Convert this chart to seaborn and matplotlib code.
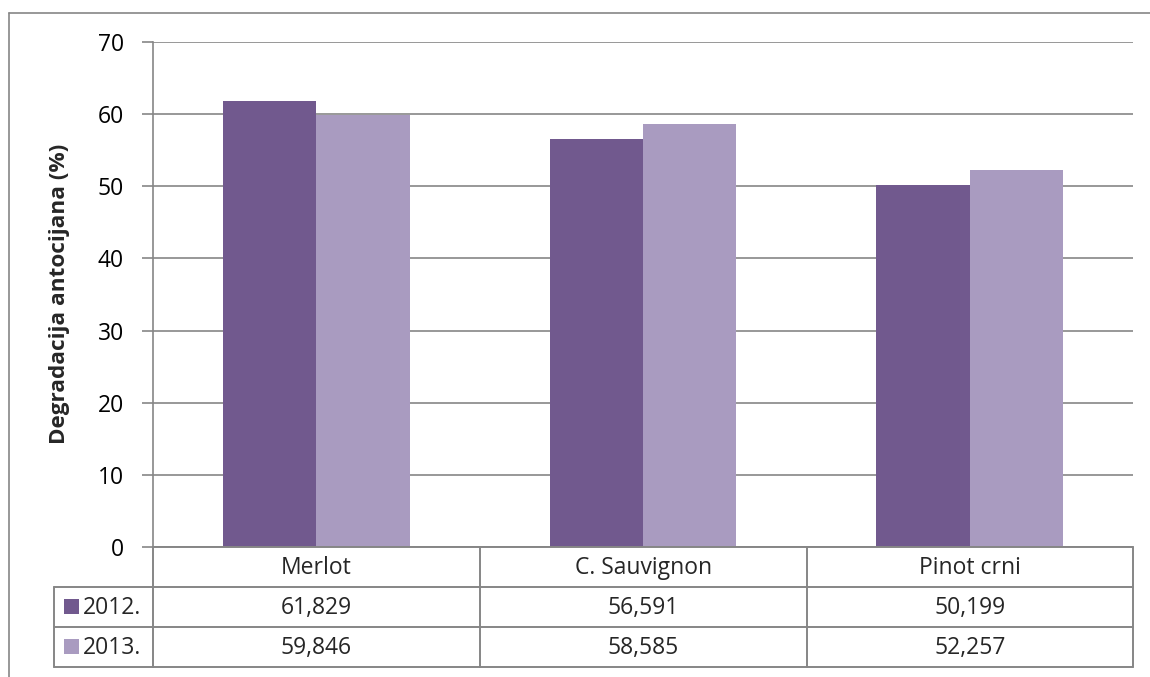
import matplotlib
matplotlib.use("Agg")
import matplotlib.pyplot as plt
import seaborn as sns
import pandas as pd
from matplotlib.lines import Line2D
from matplotlib.patches import Rectangle

categories = ["Merlot", "C. Sauvignon", "Pinot crni"]
series_names = ["2012.", "2013."]
values_2012 = [61.829, 56.591, 50.199]
values_2013 = [59.846, 58.585, 52.257]
y_ticks = [0, 10, 20, 30, 40, 50, 60, 70]
y_label = "Degradacija antocijana (%)"
colors = ["#71598E", "#A99BC0"]

sns.set_theme(style="white")
plt.rcParams["font.family"] = ["Open Sans", "DejaVu Sans"]

W, H = 1150, 677
fig = plt.figure(figsize=(W / 100, H / 100), dpi=100)

def fx(px):
    return px / W

def fy(py):
    return 1 - py / H

L, R, T, B = 153, 1133, 42, 547
ax = fig.add_axes([fx(L), fy(B), fx(R) - fx(L), fy(T) - fy(B)])

df = pd.DataFrame({
    "cat": categories * 2,
    "year": [series_names[0]] * 3 + [series_names[1]] * 3,
    "val": values_2012 + values_2013,
})
sns.barplot(data=df, x="cat", y="val", hue="year", palette=colors,
            width=0.572, saturation=1, ax=ax, legend=False, linewidth=0)

grid_c = "#868686"
fs = 16.5
ax.set_ylim(0, 70)
ax.set_xlim(-0.5, 2.5)
ax.set_yticks(y_ticks)
ax.set_yticklabels([str(t) for t in y_ticks], fontsize=fs, color="black")
ax.yaxis.grid(True, color=grid_c, linewidth=1.2)
ax.set_axisbelow(True)
ax.set_xticks([])
ax.set_xlabel("")
ax.set_ylabel(y_label, fontsize=16.2, fontweight="bold", va="center")
for s in ["top", "right", "bottom"]:
    ax.spines[s].set_visible(False)
ax.spines["left"].set_color(grid_c)
ax.spines["left"].set_linewidth(1.2)
ax.tick_params(axis="y", length=8, width=1.2, color=grid_c, direction="out", pad=13, left=True)
ax.yaxis.set_label_coords(-(L - 60) / (R - L), (B - 294) / (B - T))

# Table
lc = grid_c
lw = 1.4
col_x = [153, 480, 807, 1133]
def hline(x0, x1, y):
    fig.add_artist(Line2D([fx(x0), fx(x1)], [fy(y), fy(y)], color=lc, lw=lw))
def vline(x, y0, y1):
    fig.add_artist(Line2D([fx(x), fx(x)], [fy(y0), fy(y1)], color=lc, lw=lw))

hline(153, 1133, 547)
hline(54, 1133, 587)
hline(54, 1133, 627)
hline(54, 1133, 667)
for x in col_x:
    vline(x, 547, 667)
vline(54, 587, 667)

for i, c in enumerate(categories):
    cx = (col_x[i] + col_x[i + 1]) / 2
    fig.text(fx(cx), fy(568), c, ha="center", va="center", fontsize=fs)
    fig.text(fx(cx), fy(608), f"{values_2012[i]:.3f}".replace(".", ","), ha="center", va="center", fontsize=fs)
    fig.text(fx(cx), fy(648), f"{values_2013[i]:.3f}".replace(".", ","), ha="center", va="center", fontsize=fs)

for j, (name, col) in enumerate(zip(series_names, colors)):
    yc = 607 + 40 * j
    fig.add_artist(Rectangle((fx(64), fy(yc + 7)), fx(15), fy(0) - fy(15),
                             facecolor=col, edgecolor="none", transform=fig.transFigure))
    fig.text(fx(83), fy(yc + 1), name, ha="left", va="center", fontsize=fs)

# outer chart border (left and top visible)
fig.add_artist(Line2D([fx(9), fx(9)], [fy(13), fy(H + 5)], color=lc, lw=1.2))
fig.add_artist(Line2D([fx(9), fx(W + 5)], [fy(13), fy(13)], color=lc, lw=1.2))

fig.savefig("out.png", dpi=100)
